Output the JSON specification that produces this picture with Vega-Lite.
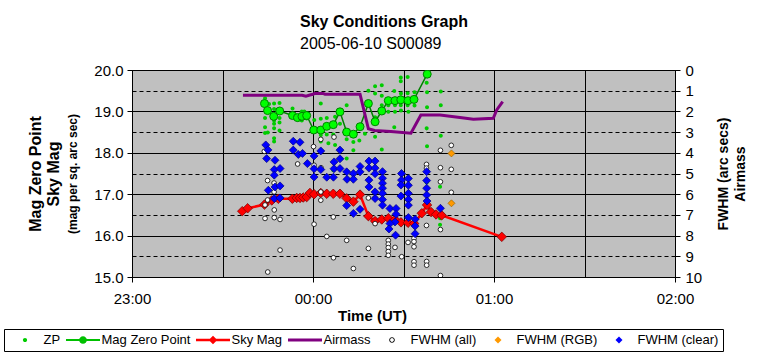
{
"$schema": "https://vega.github.io/schema/vega-lite/v6.json",
"width": 543,
"height": 207,
"autosize": {"type": "none"},
"padding": {"left": 132, "top": 70, "right": 89, "bottom": 82},
"title": {"text": "Sky Conditions Graph", "subtitle": "2005-06-10 S00089", "anchor": "start", "frame": "group", "dx": 168, "fontSize": 16, "fontWeight": "bold", "color": "#000", "subtitleFontSize": 16, "subtitleColor": "#000", "subtitlePadding": 6, "offset": 11, "font": "Liberation Sans", "subtitleFont": "Liberation Sans"},
"config": {
  "font": "Liberation Sans",
  "view": {"fill": "#c0c0c0", "stroke": "#808080"},
  "axis": {"labelColor": "#000", "titleColor": "#000", "domainColor": "#000", "tickColor": "#000", "labelFont": "Liberation Sans", "titleFont": "Liberation Sans"},
  "legend": {"orient": "none", "legendX": -128, "legendY": 259, "direction": "horizontal", "columns": 7,
    "symbolSize": 196, "symbolOffset": 10, "labelOffset": 11.5, "columnPadding": 4, "padding": 4, "rowPadding": 0,
    "strokeColor": "#000", "fillColor": "#fff", "labelFontSize": 13, "labelColor": "#000", "labelFont": "Liberation Sans", "labelLimit": 200, "symbolStrokeWidth": 0}
},
"datasets": {
  "zp": [
    {"hour":23.735,"mag":19.32},{"hour":23.735,"mag":19.15},{"hour":23.735,"mag":18.84},{"hour":23.735,"mag":18.62},{"hour":23.735,"mag":18.48},{"hour":23.750,"mag":18.49},{"hour":23.757,"mag":19.18},
    {"hour":23.785,"mag":19.19},{"hour":23.785,"mag":19.06},{"hour":23.785,"mag":18.78},{"hour":23.785,"mag":18.70},{"hour":23.785,"mag":18.59},{"hour":23.785,"mag":18.35},{"hour":23.785,"mag":18.27},
    {"hour":23.815,"mag":19.20},{"hour":23.815,"mag":18.84},{"hour":23.815,"mag":18.73},{"hour":23.815,"mag":18.54},
    {"hour":23.887,"mag":19.07},{"hour":23.910,"mag":18.85},{"hour":23.919,"mag":18.80},{"hour":23.938,"mag":18.78},{"hour":23.952,"mag":19.00},{"hour":23.965,"mag":18.83},{"hour":23.938,"mag":19.00},
    {"hour":24.007,"mag":18.79},{"hour":24.043,"mag":19.19},{"hour":24.043,"mag":18.82},{"hour":24.043,"mag":18.43},{"hour":24.043,"mag":18.27},{"hour":24.076,"mag":18.84},{"hour":24.076,"mag":18.44},
    {"hour":24.085,"mag":18.23},{"hour":24.112,"mag":18.44},{"hour":24.122,"mag":18.87},{"hour":24.122,"mag":18.19},{"hour":24.112,"mag":17.58},
    {"hour":24.149,"mag":18.70},{"hour":24.149,"mag":17.86},{"hour":24.186,"mag":19.15},{"hour":24.186,"mag":18.33},{"hour":24.186,"mag":17.86},{"hour":24.223,"mag":18.26},{"hour":24.223,"mag":18.06},
    {"hour":24.256,"mag":18.30},{"hour":24.287,"mag":18.46},{"hour":24.297,"mag":19.15},
    {"hour":24.306,"mag":19.50},{"hour":24.343,"mag":19.61},{"hour":24.343,"mag":19.43},{"hour":24.343,"mag":18.86},{"hour":24.343,"mag":18.39},
    {"hour":24.380,"mag":19.63},{"hour":24.380,"mag":19.38},{"hour":24.380,"mag":19.15},{"hour":24.380,"mag":18.08},
    {"hour":24.416,"mag":19.15},{"hour":24.416,"mag":18.99},{"hour":24.449,"mag":19.49},{"hour":24.453,"mag":19.15},{"hour":24.453,"mag":18.99},{"hour":24.449,"mag":18.62},
    {"hour":24.485,"mag":19.82},{"hour":24.485,"mag":19.73},{"hour":24.486,"mag":19.43},{"hour":24.485,"mag":19.15},{"hour":24.486,"mag":19.02},
    {"hour":24.523,"mag":19.83},{"hour":24.523,"mag":19.44},{"hour":24.523,"mag":19.15},{"hour":24.527,"mag":18.99},{"hour":24.561,"mag":19.46},{"hour":24.561,"mag":19.14},
    {"hour":24.628,"mag":19.69},{"hour":24.630,"mag":19.46},{"hour":24.630,"mag":19.10},{"hour":24.628,"mag":18.59},{"hour":24.630,"mag":18.16},{"hour":24.628,"mag":17.28},
    {"hour":24.706,"mag":19.48},{"hour":24.706,"mag":19.15},{"hour":24.706,"mag":18.41},{"hour":24.702,"mag":17.18},{"hour":24.702,"mag":16.42},{"hour":24.702,"mag":16.26}
  ],
  "mzp": [
    {"hour":23.732,"mag":19.19},{"hour":23.749,"mag":19.02},{"hour":23.783,"mag":18.88},{"hour":23.816,"mag":19.01},{"hour":23.887,"mag":18.90},{"hour":23.914,"mag":18.85},
    {"hour":23.939,"mag":18.88},{"hour":23.965,"mag":18.90},{"hour":24.004,"mag":18.55},{"hour":24.043,"mag":18.55},{"hour":24.076,"mag":18.64},{"hour":24.112,"mag":18.68},
    {"hour":24.149,"mag":18.99},{"hour":24.186,"mag":18.50},{"hour":24.223,"mag":18.45},{"hour":24.260,"mag":18.63},{"hour":24.306,"mag":19.19},{"hour":24.343,"mag":18.75},
    {"hour":24.380,"mag":19.01},{"hour":24.416,"mag":19.26},{"hour":24.453,"mag":19.26},{"hour":24.485,"mag":19.28},{"hour":24.525,"mag":19.26},{"hour":24.558,"mag":19.29},
    {"hour":24.631,"mag":19.90},{"hour":24.685,"mag":20.29}
  ],
  "sky": [
    {"hour":23.609,"mag":16.59},{"hour":23.639,"mag":16.66},{"hour":23.732,"mag":16.75},{"hour":23.772,"mag":16.85},{"hour":23.808,"mag":16.89},{"hour":23.886,"mag":16.89},
    {"hour":23.910,"mag":16.91},{"hour":23.928,"mag":16.91},{"hour":23.946,"mag":16.92},{"hour":23.965,"mag":16.93},{"hour":23.983,"mag":17.03},{"hour":24.006,"mag":17.00},
    {"hour":24.043,"mag":17.03},{"hour":24.076,"mag":17.01},{"hour":24.112,"mag":17.01},{"hour":24.149,"mag":17.01},{"hour":24.186,"mag":16.90},{"hour":24.223,"mag":16.82},
    {"hour":24.260,"mag":16.99},{"hour":24.306,"mag":16.47},{"hour":24.343,"mag":16.35},{"hour":24.380,"mag":16.39},{"hour":24.416,"mag":16.42},{"hour":24.453,"mag":16.39},
    {"hour":24.486,"mag":16.32},{"hour":24.525,"mag":16.31},{"hour":24.559,"mag":16.29},{"hour":24.601,"mag":16.54},{"hour":24.630,"mag":16.74},{"hour":24.652,"mag":16.57},
    {"hour":24.680,"mag":16.51},{"hour":24.711,"mag":16.49},{"hour":25.043,"mag":15.97}
  ],
  "airmass": [
    {"hour":23.613,"value":1.22},{"hour":23.873,"value":1.22},{"hour":23.940,"value":1.22},{"hour":23.961,"value":1.27},{"hour":23.983,"value":1.21},{"hour":24.000,"value":1.17},
    {"hour":24.010,"value":1.13},{"hour":24.055,"value":1.13},{"hour":24.066,"value":1.17},{"hour":24.260,"value":1.17},{"hour":24.306,"value":2.84},{"hour":24.340,"value":2.92},
    {"hour":24.430,"value":2.97},{"hour":24.541,"value":3.05},{"hour":24.596,"value":2.17},{"hour":24.702,"value":2.17},{"hour":24.812,"value":2.29},{"hour":24.886,"value":2.38},
    {"hour":24.996,"value":2.33},{"hour":25.015,"value":1.93},{"hour":25.048,"value":1.53}
  ],
  "fwhm_all": [
    {"hour":23.731,"value":3.93},{"hour":23.749,"value":5.34},{"hour":23.785,"value":5.46},{"hour":23.785,"value":5.89},{"hour":23.749,"value":6.28},{"hour":23.735,"value":6.52},
    {"hour":23.786,"value":6.76},{"hour":23.735,"value":7.17},{"hour":23.786,"value":7.13},{"hour":23.818,"value":7.22},{"hour":23.915,"value":4.54},{"hour":23.818,"value":8.70},
    {"hour":23.750,"value":9.76},{"hour":24.003,"value":3.70},{"hour":24.043,"value":3.35},{"hour":24.116,"value":3.24},{"hour":24.044,"value":4.72},{"hour":24.006,"value":4.60},
    {"hour":24.043,"value":5.89},{"hour":24.043,"value":6.29},{"hour":24.112,"value":7.10},{"hour":24.006,"value":7.45},{"hour":24.076,"value":8.04},{"hour":24.186,"value":8.23},
    {"hour":24.113,"value":9.07},{"hour":24.223,"value":9.59},{"hour":24.306,"value":6.18},{"hour":24.343,"value":6.18},{"hour":24.306,"value":8.62},{"hour":24.343,"value":7.42},
    {"hour":24.416,"value":8.23},{"hour":24.416,"value":8.41},{"hour":24.416,"value":8.58},{"hour":24.416,"value":8.77},{"hour":24.416,"value":8.95},{"hour":24.453,"value":8.57},
    {"hour":24.490,"value":9.02},{"hour":24.525,"value":8.33},{"hour":24.558,"value":8.13},{"hour":24.558,"value":8.29},{"hour":24.558,"value":8.54},{"hour":24.558,"value":9.26},
    {"hour":24.558,"value":9.43},{"hour":24.627,"value":4.56},{"hour":24.627,"value":4.74},{"hour":24.627,"value":7.51},{"hour":24.628,"value":9.25},{"hour":24.628,"value":9.43},
    {"hour":24.704,"value":3.88},{"hour":24.704,"value":4.72},{"hour":24.704,"value":5.40},{"hour":24.704,"value":7.71},{"hour":24.704,"value":9.93},
    {"hour":24.764,"value":3.64},{"hour":24.764,"value":4.80},{"hour":24.764,"value":5.91}
  ],
  "fwhm_rgb": [
    {"hour":24.765,"value":4.03},{"hour":24.765,"value":6.44}
  ],
  "fwhm_clear": [
    {"hour":23.739,"value":3.62},{"hour":23.751,"value":3.86},{"hour":23.744,"value":4.28},{"hour":23.790,"value":4.36},{"hour":23.786,"value":4.81},{"hour":23.818,"value":4.76},
    {"hour":23.786,"value":5.08},{"hour":23.753,"value":5.81},{"hour":23.790,"value":5.65},{"hour":23.818,"value":5.60},{"hour":23.786,"value":6.21},{"hour":23.818,"value":6.18},
    {"hour":23.891,"value":3.44},{"hour":23.928,"value":3.49},{"hour":23.891,"value":3.87},{"hour":23.919,"value":4.08},{"hour":23.942,"value":4.03},{"hour":23.969,"value":4.52},
    {"hour":24.006,"value":4.15},{"hour":24.006,"value":4.77},{"hour":24.006,"value":5.17},{"hour":24.043,"value":3.91},{"hour":24.043,"value":4.81},{"hour":24.076,"value":5.18},
    {"hour":24.113,"value":5.18},{"hour":24.116,"value":4.44},{"hour":24.116,"value":4.77},{"hour":24.149,"value":3.87},{"hour":24.149,"value":4.29},{"hour":24.149,"value":4.76},
    {"hour":24.186,"value":4.92},{"hour":24.188,"value":5.28},{"hour":24.223,"value":5.00},{"hour":24.223,"value":5.28},{"hour":24.260,"value":4.66},{"hour":24.260,"value":4.92},
    {"hour":24.186,"value":6.55},{"hour":24.223,"value":6.93},{"hour":24.260,"value":6.73},{"hour":24.309,"value":4.40},{"hour":24.343,"value":4.40},{"hour":24.309,"value":4.74},
    {"hour":24.343,"value":4.74},{"hour":24.343,"value":5.01},{"hour":24.309,"value":5.32},{"hour":24.309,"value":5.65},{"hour":24.343,"value":5.89},{"hour":24.343,"value":6.21},
    {"hour":24.384,"value":4.91},{"hour":24.384,"value":5.23},{"hour":24.384,"value":5.47},{"hour":24.384,"value":5.71},{"hour":24.384,"value":5.96},{"hour":24.384,"value":6.26},
    {"hour":24.384,"value":6.53},{"hour":24.425,"value":6.69},{"hour":24.459,"value":6.69},{"hour":24.459,"value":6.97},{"hour":24.453,"value":7.34},{"hour":24.425,"value":7.42},
    {"hour":24.420,"value":7.68},{"hour":24.456,"value":7.98},{"hour":24.489,"value":5.00},{"hour":24.489,"value":5.32},{"hour":24.486,"value":5.56},{"hour":24.486,"value":6.09},
    {"hour":24.527,"value":5.24},{"hour":24.527,"value":5.57},{"hour":24.527,"value":5.96},{"hour":24.527,"value":6.25},{"hour":24.527,"value":6.53},{"hour":24.527,"value":7.13},
    {"hour":24.564,"value":7.21},{"hour":24.564,"value":7.54},{"hour":24.564,"value":7.91},{"hour":24.628,"value":4.91},{"hour":24.628,"value":5.34},{"hour":24.628,"value":5.71},
    {"hour":24.628,"value":6.04},{"hour":24.630,"value":6.33},{"hour":24.704,"value":6.68}
  ]
},
"encoding": {
  "x": {"field": "hour", "type": "quantitative",
    "scale": {"domain": [23, 26], "nice": false, "zero": false},
    "axis": {"values": [23, 23.5, 24, 24.5, 25, 25.5, 26],
      "labelExpr": "datum.value % 1 === 0 ? format(datum.value % 24, '02d') + ':00' : ''",
      "grid": true, "gridColor": "#000", "gridOpacity": 1, "gridWidth": 1,
      "tickSize": 5, "tickOpacity": {"condition": {"test": "datum.value % 1 !== 0", "value": 0}, "value": 1},
      "labelFontSize": 15, "labelPadding": 9, "labelFlush": false, "labelOverlap": false,
      "title": "Time (UT)", "titleFontSize": 15, "titleFontWeight": "bold", "titleX": 240, "titleY": 31, "titleBaseline": "top"}
  }
},
"layer": [
  {
    "encoding": {
      "y": {"field": "mag", "type": "quantitative",
        "scale": {"domain": [15, 20], "nice": false, "zero": false},
        "axis": {"orient": "left", "values": [15, 16, 17, 18, 19, 20], "format": ".1f",
          "grid": true, "gridColor": "#000", "gridOpacity": 1, "gridWidth": 1,
          "tickSize": 5, "labelFontSize": 15, "labelPadding": 4, "labelOverlap": false,
          "title": ["Mag Zero Point", "Sky Mag"], "titleFontSize": 16, "titleFontWeight": "bold", "titleLineHeight": 18.5,
          "titleAngle": 270, "titleBaseline": "middle", "titleAlign": "center", "titleX": -97, "titleY": 103.5}
      }
    },
    "layer": [
      {"data": {"name": "zp"},
       "mark": {"type": "point", "filled": true, "size": 178, "strokeWidth": 0, "opacity": 1, "clip": true},
       "encoding": {
         "color": {"datum": "ZP", "type": "nominal",
           "scale": {"domain": ["ZP", "Mag Zero Point", "Sky Mag", "Airmass", "FWHM (all)", "FWHM (RGB)", "FWHM (clear)"],
                     "range": ["#00cc00", "#00c000", "#ff0000", "#800080", "#000000", "#ff9900", "#0000ff"]},
           "legend": {"title": null}},
         "shape": {"datum": "ZP", "type": "nominal",
           "scale": {"domain": ["ZP", "Mag Zero Point", "Sky Mag", "Airmass", "FWHM (all)", "FWHM (RGB)", "FWHM (clear)"],
                     "range": [
                       "M0.3,0A0.3,0.3,0,1,1,-0.3,0A0.3,0.3,0,1,1,0.3,0Z",
                       "M-2.43,-0.15H2.43V0.15H-2.43ZM0.55,0A0.55,0.55,0,1,1,-0.55,0A0.55,0.55,0,1,1,0.55,0Z",
                       "M-2.43,-0.17H2.43V0.17H-2.43ZM0,-0.62L0.62,0L0,0.62L-0.62,0Z",
                       "M-2.43,-0.22H2.43V0.22H-2.43Z",
                       "M0.4,0A0.4,0.4,0,1,1,-0.4,0A0.4,0.4,0,1,1,0.4,0ZM0.27,0A0.27,0.27,0,1,0,-0.27,0A0.27,0.27,0,1,0,0.27,0Z",
                       "M0,-0.5L0.5,0L0,0.5L-0.5,0Z",
                       "M0,-0.5L0.5,0L0,0.5L-0.5,0Z"]},
           "legend": {"title": null}}
       }},
      {"data": {"name": "mzp"},
       "mark": {"type": "line", "color": "#008000", "strokeWidth": 1.5, "clip": true},
       "encoding": {}},
      {"data": {"name": "mzp"},
       "mark": {"type": "point", "shape": "circle", "filled": true, "size": 64, "fill": "#00ff00", "stroke": "#008000", "strokeWidth": 1, "opacity": 1, "clip": true},
       "encoding": {}},
      {"data": {"name": "sky"},
       "mark": {"type": "line", "color": "#ff0000", "strokeWidth": 2.5, "clip": true},
       "encoding": {}},
      {"data": {"name": "sky"},
       "mark": {"type": "point", "shape": "diamond", "filled": true, "size": 90, "fill": "#ff0000", "stroke": "#800000", "strokeWidth": 0.8, "opacity": 1, "clip": true},
       "encoding": {}}
    ]
  },
  {
    "encoding": {
      "y": {"field": "value", "type": "quantitative",
        "scale": {"domain": [0, 10], "reverse": true, "nice": false, "zero": false},
        "axis": {"orient": "right", "values": [0, 1, 2, 3, 4, 5, 6, 7, 8, 9, 10], "format": "d",
          "grid": true, "gridColor": "#000", "gridOpacity": 1, "gridWidth": 1, "gridDash": [4, 3],
          "tickSize": 5, "labelFontSize": 15, "labelPadding": 5, "labelOverlap": false,
          "title": ["FWHM (arc secs)", "Airmass"], "titleFontSize": 14, "titleFontWeight": "bold", "titleLineHeight": 17.5,
          "titleAngle": 270, "titleBaseline": "middle", "titleAlign": "center", "titleX": 48, "titleY": 103.5}
      }
    },
    "layer": [
      {"data": {"name": "airmass"},
       "mark": {"type": "line", "color": "#800080", "strokeWidth": 3, "clip": true},
       "encoding": {}},
      {"data": {"name": "fwhm_all"},
       "mark": {"type": "point", "shape": "circle", "filled": true, "size": 22, "fill": "#ffffff", "stroke": "#000000", "strokeWidth": 0.8, "opacity": 1, "clip": true},
       "encoding": {}},
      {"data": {"name": "fwhm_rgb"},
       "mark": {"type": "point", "shape": "diamond", "filled": true, "size": 49, "fill": "#ff9900", "stroke": "#996600", "strokeWidth": 0.7, "opacity": 1, "clip": true},
       "encoding": {}},
      {"data": {"name": "fwhm_clear"},
       "mark": {"type": "point", "shape": "diamond", "filled": true, "size": 64, "fill": "#0000ff", "stroke": "#000080", "strokeWidth": 0.7, "opacity": 1, "clip": true},
       "encoding": {}}
    ]
  },
  {
    "data": {"name": "sky"},
    "mark": {"type": "point", "opacity": 0},
    "encoding": {
      "y": {"field": "mag", "type": "quantitative",
        "scale": {"domain": [15, 20], "nice": false, "zero": false},
        "axis": {"orient": "left", "labels": false, "ticks": false, "domain": false, "grid": false,
          "title": "(mag per sq. arc sec)", "titleFontSize": 12, "titleFontWeight": "bold",
          "titleAngle": 270, "titleBaseline": "middle", "titleAlign": "center", "titleX": -60, "titleY": 103.5}
      }
    }
  }
],
"resolve": {"scale": {"y": "independent"}, "axis": {"y": "independent"}}
}
